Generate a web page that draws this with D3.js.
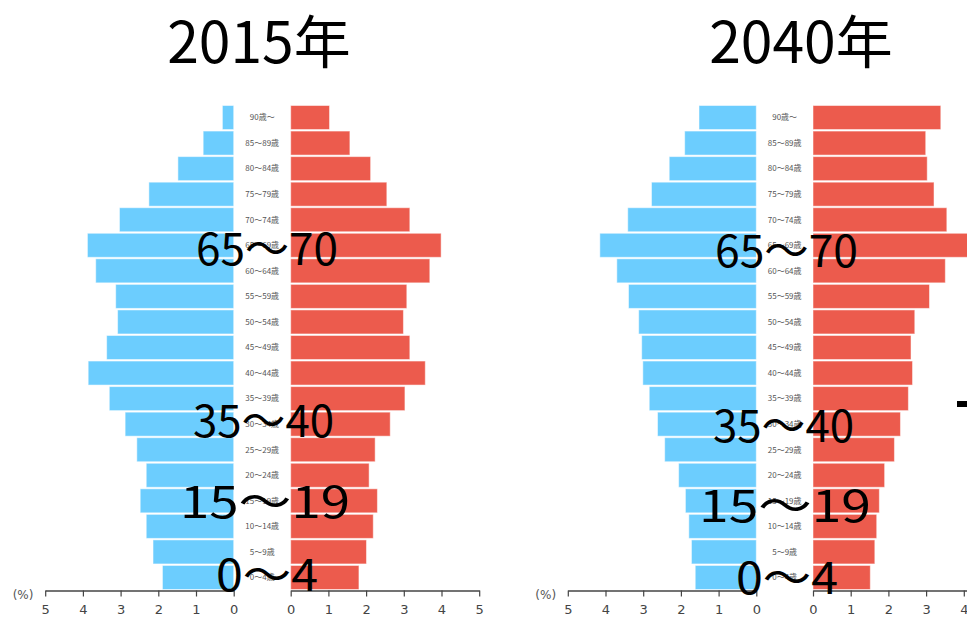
<!DOCTYPE html>
<html>
<head>
<meta charset="utf-8">
<script src="https://cdn.jsdelivr.net/npm/d3@7"></script>
<style>
  body { margin: 0; background: #fff; overflow: hidden; }
  svg { display: block; }
</style>
</head>
<body>
<script>
// age groups, top to bottom
var ages = ["90歳～", "85～89歳", "80～84歳", "75～79歳", "70～74歳", "65～69歳", "60～64歳",
  "55～59歳", "50～54歳", "45～49歳", "40～44歳", "35～39歳", "30～34歳", "25～29歳",
  "20～24歳", "15～19歳", "10～14歳", "5～9歳", "0～4歳"];

// share of total population (%)
var male2015 = [0.30, 0.81, 1.48, 2.25, 3.03, 3.88, 3.66, 3.13, 3.08, 3.37, 3.86, 3.30, 2.88, 2.57, 2.32, 2.48, 2.32, 2.14, 1.89];
var female2015 = [1.03, 1.57, 2.12, 2.55, 3.16, 3.99, 3.69, 3.08, 2.99, 3.16, 3.57, 3.03, 2.64, 2.24, 2.08, 2.30, 2.19, 2.01, 1.81];
var male2040 = [1.52, 1.90, 2.31, 2.78, 3.41, 4.15, 3.70, 3.39, 3.12, 3.04, 3.01, 2.84, 2.62, 2.43, 2.06, 1.88, 1.79, 1.72, 1.62];
var female2040 = [3.39, 2.99, 3.03, 3.21, 3.55, 4.20, 3.51, 3.09, 2.70, 2.60, 2.64, 2.53, 2.32, 2.16, 1.90, 1.76, 1.69, 1.64, 1.52];

var ticks = [0, 1, 2, 3, 4, 5];
var titles = ["2015年", "2040年"];
var notes = ["65～70", "35～40", "15～19", "0～4"];

var width = 967, height = 619;
var blue = "#6ccdfe", red = "#ec5b4d";

var svg = d3.select("body").append("svg")
  .attr("width", width)
  .attr("height", height);

var y = d3.scaleBand()
  .domain(ages)
  .range([105, 590])
  .paddingInner(0.06)
  .paddingOuter(0.02);

function drawPyramid(o) {
  var g = svg.append("g");
  var xm = d3.scaleLinear().domain([0, 5]).range([o.left0, o.left0 - 188.5]);
  var xf = d3.scaleLinear().domain([0, 5]).range([o.right0, o.right0 + 188.5]);

  g.selectAll(".m").data(o.male).enter().append("rect")
    .attr("x", function(d) { return xm(d); })
    .attr("y", function(d, i) { return y(ages[i]); })
    .attr("width", function(d) { return xm(0) - xm(d); })
    .attr("height", y.bandwidth())
    .attr("fill", blue)
    .attr("stroke", "#fff").attr("stroke-opacity", 0.5);

  g.selectAll(".f").data(o.female).enter().append("rect")
    .attr("x", xf(0))
    .attr("y", function(d, i) { return y(ages[i]); })
    .attr("width", function(d) { return xf(d) - xf(0); })
    .attr("height", y.bandwidth())
    .attr("fill", red)
    .attr("stroke", "#fff").attr("stroke-opacity", 0.5);

  // age labels between the halves
  g.selectAll(".age").data(ages).enter().append("text")
    .attr("x", (o.left0 + o.right0) / 2)
    .attr("y", function(d) { return y(d) + y.bandwidth() / 2; })
    .attr("dy", "0.35em")
    .attr("text-anchor", "middle")
    .style("font-family", "'Noto Sans CJK JP', sans-serif")
    .style("font-size", "8px")
    .attr("fill", "#555")
    .text(function(d) { return d; });

  // axes
  var axM = g.append("g").attr("transform", "translate(0,590.5)")
    .call(d3.axisBottom(xm).tickValues(ticks).tickSize(6).tickSizeOuter(0).tickFormat(d3.format("d")));
  var axF = g.append("g").attr("transform", "translate(0,590.5)")
    .call(d3.axisBottom(xf).tickValues(ticks).tickSize(6).tickSizeOuter(0).tickFormat(d3.format("d")));
  [axM, axF].forEach(function(ax) {
    ax.select(".domain").attr("stroke", "#444").attr("stroke-width", 1.5);
    ax.selectAll(".tick line").attr("stroke", "#444").attr("stroke-width", 1.2);
    ax.selectAll(".tick text")
      .attr("y", 14)
      .style("font-family", "'DejaVu Sans', sans-serif")
      .style("font-size", "13px")
      .attr("fill", "#444");
  });

  g.append("text")
    .attr("x", o.left0 - 221)
    .attr("y", 599)
    .style("font-family", "'DejaVu Sans', sans-serif")
    .style("font-size", "12px")
    .attr("fill", "#555")
    .text("(%)");

  // title
  g.append("text")
    .attr("x", o.titleX)
    .attr("y", 63)
    .attr("text-anchor", "middle")
    .style("font-family", "'Noto Sans CJK JP', sans-serif")
    .style("font-size", "57px")
    .attr("fill", "#000")
    .text(o.title);

  // overlaid range notes
  g.selectAll(".note").data(o.notes).enter().append("text")
    .attr("x", function(d) { return d.x; })
    .attr("y", function(d) { return d.y; })
    .attr("textLength", function(d) { return d.w; })
    .attr("lengthAdjust", "spacingAndGlyphs")
    .style("font-family", "'Noto Sans CJK JP', sans-serif")
    .style("font-size", "44px")
    .attr("fill", "#000")
    .text(function(d, i) { return notes[i]; });
}

drawPyramid({
  male: male2015, female: female2015, left0: 233.7, right0: 290.7,
  title: titles[0], titleX: 259,
  notes: [{x: 196, y: 265, w: 142}, {x: 193, y: 437, w: 141}, {x: 180, y: 518, w: 170}, {x: 216, y: 591, w: 102}]
});

drawPyramid({
  male: male2040, female: female2040, left0: 756.3, right0: 813,
  title: titles[1], titleX: 801,
  notes: [{x: 715, y: 267, w: 143}, {x: 713, y: 442, w: 141}, {x: 699, y: 522, w: 172}, {x: 736, y: 594, w: 102}]
});

// stray mark at the right edge
svg.append("rect")
  .attr("x", 957).attr("y", 401)
  .attr("width", 12).attr("height", 6)
  .attr("fill", "#000");
</script>
</body>
</html>
